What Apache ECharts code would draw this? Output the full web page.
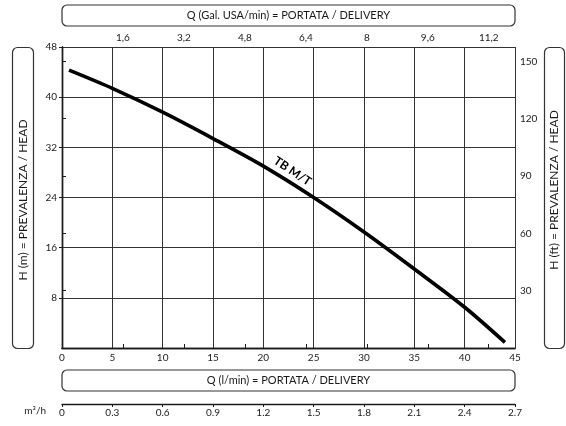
<!DOCTYPE html>
<html>
<head>
<meta charset="utf-8">
<script src="https://cdn.jsdelivr.net/npm/echarts@6/dist/echarts.min.js"></script>
<style>
html,body{margin:0;padding:0;background:#fff}
#main{width:566px;height:426px}
</style>
</head>
<body>
<div id="main"></div>
<script>
// curva TB M/T : portata (l/min) -> prevalenza (m)
var flowLpm = [0.7, 5, 10, 15, 20, 25, 30, 35, 40, 44];
var headM   = [44.3, 41.4, 37.6, 33.4, 29.0, 24.0, 18.5, 12.6, 6.5, 0.9];

// scale assi
var lpmAxis  = [0, 45, 5];      // min, max, passo
var headAxis = [0, 48, 8];
var headTicks = [8, 16, 24, 32, 40, 48];
var galStep  = 1.6;             // Gal. USA/min
var ftTicks  = [30, 60, 90, 120, 150];
var m3hAxis  = [0, 2.7, 0.3];   // m3/h

var LPM_PER_GAL = 3.785, M_PER_FT = 0.3048;
var curveName = 'TB M/T';
var font = 'Lato';
var ink = '#1a1a1a';

var G = {left: 62, top: 47, width: 453, height: 301};

var chart = echarts.init(document.getElementById('main'), null, {renderer: 'canvas'});

var lblStyle = {color: ink, fontFamily: font, fontSize: 10};
var lineStyle = {color: ink, width: 1.4};

function box(x, y, w, h) {
  return {type: 'rect', shape: {x: x, y: y, width: w, height: h, r: 5},
    style: {fill: 'none', stroke: '#333', lineWidth: 1.2}};
}
function label(txt, x, y, rot, size) {
  return {type: 'text', x: x, y: y, rotation: rot || 0,
    style: {text: txt, fill: ink, font: (size || 11) + 'px ' + font,
      textAlign: 'center', textVerticalAlign: 'middle'}};
}

var option = {
  backgroundColor: '#fff',
  animation: false,
  grid: [
    {left: G.left, top: G.top, width: G.width, height: G.height, show: false},
    {left: G.left, top: 404, width: G.width, height: 0, show: false}
  ],
  xAxis: [
    {
      type: 'value', gridIndex: 0, position: 'bottom',
      min: lpmAxis[0], max: lpmAxis[1], interval: lpmAxis[2],
      axisLine: {show: true, lineStyle: lineStyle},
      axisTick: {show: false},
      axisLabel: Object.assign({margin: 5}, lblStyle),
      splitLine: {show: true, lineStyle: {color: '#333', width: 1}}
    },
    {
      type: 'value', gridIndex: 0, position: 'top',
      min: 0, max: lpmAxis[1] / LPM_PER_GAL, interval: galStep,
      axisLine: {show: true, lineStyle: lineStyle},
      axisTick: {show: true, inside: false, length: 4, lineStyle: {color: ink, width: 1}},
      axisLabel: Object.assign({margin: 4, showMinLabel: false, showMaxLabel: false,
        formatter: function (v) { return (+v.toFixed(1)).toString().replace('.', ','); }}, lblStyle),
      splitLine: {show: false}
    },
    {
      type: 'value', gridIndex: 1, position: 'bottom',
      min: m3hAxis[0], max: m3hAxis[1], interval: m3hAxis[2],
      axisLine: {show: true, onZero: false, lineStyle: lineStyle},
      axisTick: {show: true, inside: false, length: 3, lineStyle: {color: ink, width: 1}},
      axisLabel: Object.assign({margin: 4,
        formatter: function (v) { return (+v.toFixed(1)).toString(); }}, lblStyle),
      splitLine: {show: false}
    }
  ],
  yAxis: [
    {
      type: 'value', gridIndex: 0, position: 'left',
      min: headAxis[0], max: headAxis[1], interval: headAxis[2],
      axisLine: {show: true, lineStyle: lineStyle},
      axisTick: {show: true, inside: false, length: 3, customValues: headTicks,
        lineStyle: {color: ink, width: 1}},
      axisLabel: Object.assign({margin: 5, customValues: headTicks}, lblStyle),
      splitLine: {show: true, lineStyle: {color: '#333', width: 1}}
    },
    {
      type: 'value', gridIndex: 0, position: 'right',
      min: 0, max: headAxis[1] / M_PER_FT,
      axisLine: {show: true, lineStyle: lineStyle},
      axisTick: {show: true, inside: false, length: 4, customValues: ftTicks,
        lineStyle: {color: ink, width: 1}},
      axisLabel: Object.assign({margin: 5, customValues: ftTicks}, lblStyle),
      splitLine: {show: false}
    },
    {
      type: 'value', gridIndex: 1, show: false, min: 0, max: 1
    }
  ],
  series: [{
    name: curveName,
    type: 'line',
    xAxisIndex: 0, yAxisIndex: 0,
    data: flowLpm.map(function (q, i) { return [q, headM[i]]; }),
    smooth: 0.3,
    showSymbol: false,
    lineStyle: {color: '#000', width: 3.6, cap: 'butt'}
  }],
  graphic: [
    box(62, 5, 453, 21),
    label('Q (Gal. USA/min) = PORTATA / DELIVERY', 62 + 453 / 2, 15.5),
    box(62, 370, 453, 21),
    label('Q (l/min) = PORTATA / DELIVERY', 62 + 453 / 2, 380.5),
    box(12.5, 47.5, 21, 301),
    label('H (m) = PREVALENZA / HEAD', 23, 200, Math.PI / 2, 12),
    box(544.5, 47.5, 20, 301),
    label('H (ft) = PREVALENZA / HEAD', 554.5, 190, Math.PI / 2, 12),
    {type: 'text', x: 46, y: 411,
      style: {text: 'm³/h', fill: ink, font: '10px ' + font,
        textAlign: 'right', textVerticalAlign: 'middle'}}
  ]
};

chart.setOption(option);

// etichetta della curva
var p = chart.convertToPixel({gridIndex: 0}, [22.9, 28.2]);
chart.setOption({
  graphic: option.graphic.concat([{
    type: 'text', x: p[0], y: p[1], rotation: -0.59,
    style: {text: curveName, fill: '#000', font: 'bold 12px ' + font,
      textAlign: 'center', textVerticalAlign: 'middle'}
  }])
});
</script>
</body>
</html>
